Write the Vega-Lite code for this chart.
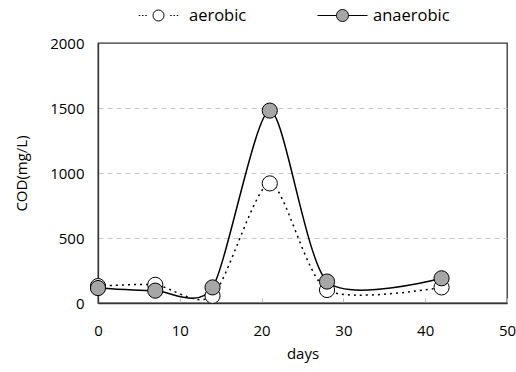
{
  "$schema": "https://vega.github.io/schema/vega-lite/v6.json",
  "width": 409,
  "height": 260,
  "autosize": {"type": "none"},
  "padding": {"left": 98, "top": 43, "right": 9, "bottom": 69},
  "background": "white",
  "config": {
    "font": "Open Sans",
    "view": {"stroke": "#333333", "strokeWidth": 1.3},
    "axis": {
      "labelFontSize": 15,
      "labelColor": "#000000",
      "titleFontSize": 15,
      "titleFontWeight": "normal",
      "titleColor": "#000000",
      "domainColor": "#333333",
      "domainWidth": 1.3,
      "labelFlush": false
    }
  },
  "data": {
    "values": [
      {"day": 0, "cod": 130, "series": "aerobic"},
      {"day": 7, "cod": 140, "series": "aerobic"},
      {"day": 14, "cod": 55, "series": "aerobic"},
      {"day": 21, "cod": 920, "series": "aerobic"},
      {"day": 28, "cod": 100, "series": "aerobic"},
      {"day": 42, "cod": 120, "series": "aerobic"},
      {"day": 0, "cod": 115, "series": "anaerobic"},
      {"day": 7, "cod": 95, "series": "anaerobic"},
      {"day": 14, "cod": 120, "series": "anaerobic"},
      {"day": 21, "cod": 1480, "series": "anaerobic"},
      {"day": 28, "cod": 165, "series": "anaerobic"},
      {"day": 42, "cod": 190, "series": "anaerobic"}
    ]
  },
  "encoding": {
    "x": {
      "field": "day",
      "type": "quantitative",
      "scale": {"domain": [0, 50], "nice": false, "zero": false},
      "axis": {
        "values": [0, 10, 20, 30, 40, 50],
        "title": "days",
        "grid": false,
        "tickSize": -5,
        "tickColor": "#bbbbbb",
        "labelPadding": 25,
        "titlePadding": 8
      }
    },
    "y": {
      "field": "cod",
      "type": "quantitative",
      "scale": {"domain": [0, 2000], "nice": false},
      "axis": {
        "values": [0, 500, 1000, 1500, 2000],
        "format": "d",
        "title": "COD(mg/L)",
        "grid": true,
        "gridColor": "#c8c8c8",
        "gridDash": [5, 4],
        "gridOpacity": {"condition": {"test": "datum.value === 0 || datum.value === 2000", "value": 0}, "value": 1},
        "ticks": false,
        "labelPadding": 14,
        "titlePadding": 20
      }
    }
  },
  "layer": [
    {
      "transform": [{"filter": "datum.series === 'aerobic'"}],
      "mark": {"type": "line", "interpolate": "cardinal", "tension": 0.25, "color": "#000000", "strokeWidth": 1.5, "strokeDash": [2, 4]}
    },
    {
      "transform": [{"filter": "datum.series === 'anaerobic'"}],
      "mark": {"type": "line", "interpolate": "cardinal", "tension": 0.25, "color": "#000000", "strokeWidth": 1.5}
    },
    {
      "mark": {"type": "point", "filled": true, "stroke": "#000000", "strokeWidth": 1, "size": 230, "shape": "circle", "opacity": 1},
      "encoding": {
        "fill": {
          "field": "series",
          "type": "nominal",
          "scale": {"domain": ["aerobic", "anaerobic"], "range": ["#ffffff", "#a6a6a6"]},
          "legend": {
            "orient": "none",
            "legendX": 35,
            "legendY": -53,
            "direction": "horizontal",
            "title": null,
            "padding": 0,
            "symbolSize": 2500,
            "symbolType": {"expr": "datum.value === 'aerobic' ? 'M-0.79,0H-0.73M-0.66,0H-0.6M-0.53,0H-0.47M0.47,0H0.53M0.6,0H0.66M0.73,0H0.79M0.22,0A0.22,0.22,0,1,1,-0.22,0A0.22,0.22,0,1,1,0.22,0Z' : 'M-1,0H-0.24M0.24,0H1M0.24,0A0.24,0.24,0,1,1,-0.24,0A0.24,0.24,0,1,1,0.24,0Z'"},
            "symbolStrokeColor": "#000000",
            "symbolStrokeWidth": 1,
            "labelOffset": 5,
            "labelFontSize": 16.5,
            "labelColor": "#000000",
            "columnPadding": 68
          }
        }
      }
    }
  ]
}
